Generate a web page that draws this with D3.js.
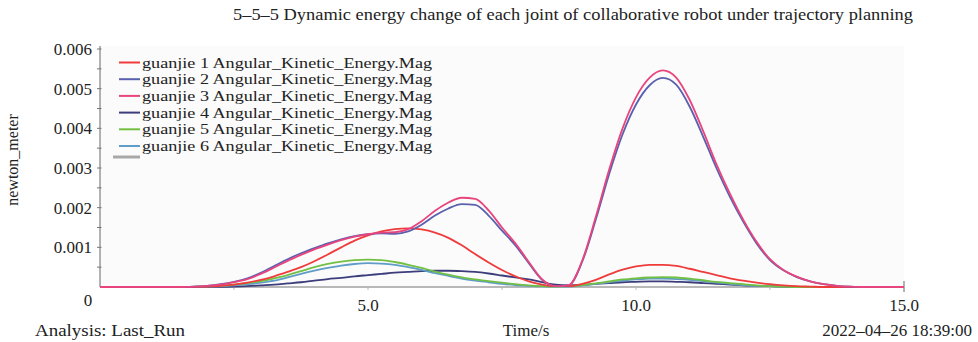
<!DOCTYPE html>
<html>
<head>
<meta charset="utf-8">
<script src="https://cdn.jsdelivr.net/npm/d3@7"></script>
<style>
  html, body { margin: 0; padding: 0; background: #fff; }
  svg { display: block; }
  text { font-family: "Liberation Serif", "DejaVu Serif", serif; fill: #222; }
</style>
</head>
<body>
<svg id="chart" width="978" height="342"></svg>
<script>
// Sample times (s), step 0.25 from 0 to 15
const time = d3.range(0, 15.0001, 0.25);

// Angular kinetic energy magnitude, in units of 0.001 newton_meter
const guanjie1 = [0,0,0,0,0,0,0,0, 0.01,0.03,0.06,0.11,0.18,0.27,0.38,0.50,0.65,0.82,1.00,1.17,1.30,1.40,1.46,1.48,1.45,1.37,1.24,1.05,0.83,0.62,0.43,0.27,0.14,0.06,0.02,0.02,0.08,0.18,0.32,0.44,0.52,0.56,0.56,0.53,0.46,0.38,0.30,0.22,0.16,0.11,0.07,0.04,0.02,0.01,0,0,0,0,0,0,0];
const guanjie2 = [0,0,0,0,0,0,0, 0.01,0.03,0.07,0.13,0.22,0.36,0.53,0.70,0.85,0.98,1.10,1.20,1.28,1.33,1.35,1.34,1.40,1.57,1.80,1.98,2.09,2.07,1.80,1.42,1.05,0.60,0.18,0.02,0.05,0.65,1.70,2.85,3.85,4.60,5.08,5.27,5.10,4.55,3.80,3.00,2.28,1.65,1.10,0.68,0.42,0.25,0.14,0.07,0.03,0.01,0,0,0,0];
const guanjie3 = [0,0,0,0,0,0,0, 0.01,0.03,0.06,0.12,0.20,0.33,0.49,0.66,0.81,0.95,1.07,1.18,1.27,1.33,1.37,1.38,1.46,1.66,1.92,2.13,2.25,2.22,1.93,1.50,1.10,0.63,0.19,0.02,0.05,0.68,1.77,2.96,4.00,4.78,5.27,5.46,5.28,4.72,3.94,3.10,2.36,1.70,1.14,0.70,0.43,0.26,0.14,0.07,0.03,0.01,0,0,0,0];
const guanjie4 = [0,0,0,0,0,0,0,0,0, 0.005,0.01,0.02,0.04,0.06,0.09,0.12,0.16,0.20,0.23,0.27,0.30,0.33,0.36,0.38,0.40,0.41,0.41,0.40,0.38,0.34,0.29,0.24,0.19,0.12,0.06,0.04,0.05,0.08,0.10,0.12,0.13,0.14,0.14,0.13,0.12,0.10,0.08,0.06,0.04,0.03,0.02,0.01,0,0,0,0,0,0,0,0,0];
const guanjie5 = [0,0,0,0,0,0,0, 0.005,0.015,0.03,0.06,0.10,0.15,0.22,0.30,0.40,0.50,0.58,0.64,0.68,0.69,0.68,0.63,0.56,0.48,0.39,0.31,0.24,0.19,0.15,0.11,0.07,0.04,0.02,0.01,0.02,0.05,0.09,0.14,0.19,0.22,0.24,0.25,0.24,0.21,0.17,0.13,0.10,0.07,0.04,0.02,0.01,0,0,0,0,0,0,0,0,0];
const guanjie6 = [0,0,0,0,0,0,0, 0.005,0.01,0.02,0.04,0.07,0.11,0.16,0.24,0.33,0.41,0.48,0.54,0.58,0.60,0.59,0.56,0.50,0.43,0.35,0.28,0.21,0.16,0.12,0.08,0.05,0.03,0.015,0.01,0.01,0.04,0.08,0.12,0.16,0.19,0.21,0.21,0.20,0.18,0.15,0.11,0.08,0.05,0.03,0.02,0.01,0,0,0,0,0,0,0,0,0];

const seriesNames = [
  "guanjie 1 Angular_Kinetic_Energy.Mag",
  "guanjie 2 Angular_Kinetic_Energy.Mag",
  "guanjie 3 Angular_Kinetic_Energy.Mag",
  "guanjie 4 Angular_Kinetic_Energy.Mag",
  "guanjie 5 Angular_Kinetic_Energy.Mag",
  "guanjie 6 Angular_Kinetic_Energy.Mag"
];
const seriesValues = [guanjie1, guanjie2, guanjie3, guanjie4, guanjie5, guanjie6];
const seriesColors = ["#ef3b3b", "#5a60ae", "#e8457e", "#3d3d7c", "#72c043", "#5f9cc8"];

const yTicks = [0.001, 0.002, 0.003, 0.004, 0.005, 0.006];
const xTicks = [5, 10, 15];
const xTickLabels = ["5.0", "10.0", "15.0"];

const titleText = "5\u20135\u20135 Dynamic energy change of each joint of collaborative robot under trajectory planning";

const svg = d3.select("#chart");

const x = d3.scaleLinear().domain([0, 15]).range([100, 904]);
const y = d3.scaleLinear().domain([0, 0.006]).range([287, 49]);

// Plot area background
svg.append("rect")
  .attr("x", x(0)).attr("y", 46)
  .attr("width", x(15) - x(0)).attr("height", y(0) - 46)
  .attr("fill", "#fbfbfb");

// Title
svg.append("text")
  .attr("x", 233).attr("y", 20)
  .attr("font-size", 16)
  .attr("textLength", 680).attr("lengthAdjust", "spacingAndGlyphs")
  .text(titleText);

// Y axis: spine, minor ticks every 0.0005
svg.append("line")
  .attr("x1", x(0)).attr("x2", x(0))
  .attr("y1", 46).attr("y2", y(0))
  .attr("stroke", "#666").attr("stroke-width", 1);
svg.append("g").selectAll("line")
  .data(d3.range(0.0005, 0.00601, 0.0005))
  .join("line")
  .attr("x1", x(0) - 3).attr("x2", x(0) + 1.5)
  .attr("y1", d => y(d)).attr("y2", d => y(d))
  .attr("stroke", "#777").attr("stroke-width", 1);

svg.append("g").selectAll("text")
  .data(yTicks)
  .join("text")
  .attr("x", 92).attr("y", d => y(d) + 6)
  .attr("text-anchor", "end")
  .attr("font-size", 17)
  .text(d => d3.format(".3f")(d));

svg.append("text")
  .attr("x", 88).attr("y", 306)
  .attr("text-anchor", "middle")
  .attr("font-size", 17)
  .text("0");

// Y axis title
svg.append("text")
  .attr("transform", "translate(18,160) rotate(-90)")
  .attr("text-anchor", "middle")
  .attr("font-size", 16)
  .text("newton_meter");

// X axis: baseline, faint minor ticks and end tick
svg.append("line")
  .attr("x1", x(0)).attr("x2", x(15))
  .attr("y1", y(0)).attr("y2", y(0))
  .attr("stroke", "#b8b8b8").attr("stroke-width", 2);
svg.append("g").selectAll("line")
  .data([2.5, 5, 7.5, 10, 12.5])
  .join("line")
  .attr("x1", d => x(d)).attr("x2", d => x(d))
  .attr("y1", y(0)).attr("y2", y(0) + 3)
  .attr("stroke", "#bbb").attr("stroke-width", 1);
svg.append("line")
  .attr("x1", x(15)).attr("x2", x(15))
  .attr("y1", y(0) - 6).attr("y2", y(0) + 5)
  .attr("stroke", "#666").attr("stroke-width", 1);

svg.append("g").selectAll("text")
  .data(xTicks)
  .join("text")
  .attr("x", d => x(d)).attr("y", 311)
  .attr("text-anchor", "middle")
  .attr("font-size", 17)
  .text((d, i) => xTickLabels[i]);

// Footer labels
svg.append("text").attr("x", 35).attr("y", 336).attr("font-size", 17)
  .attr("textLength", 150).attr("lengthAdjust", "spacingAndGlyphs")
  .text("Analysis: Last_Run");
svg.append("text").attr("x", 526).attr("y", 336).attr("font-size", 17)
  .attr("text-anchor", "middle")
  .text("Time/s");
svg.append("text").attr("x", 972).attr("y", 336).attr("font-size", 17)
  .attr("text-anchor", "end")
  .text("2022\u201304\u201326 18:39:00");

// Curves
const line = d3.line()
  .x(d => x(d[0]))
  .y(d => y(d[1] / 1000))
  .curve(d3.curveMonotoneX);

const drawOrder = [3, 5, 4, 0, 1, 2];
svg.append("g").selectAll("path")
  .data(drawOrder)
  .join("path")
  .attr("d", i => line(time.map((t, k) => [t, seriesValues[i][k]])))
  .attr("fill", "none")
  .attr("stroke", i => seriesColors[i])
  .attr("stroke-width", 1.8)
  .attr("stroke-linejoin", "round");

// Legend
const legend = svg.append("g");
seriesNames.forEach((name, i) => {
  const cy = 62.5 + 16.7 * i;
  legend.append("line")
    .attr("x1", 119).attr("x2", 140)
    .attr("y1", cy).attr("y2", cy)
    .attr("stroke", seriesColors[i]).attr("stroke-width", 2);
  legend.append("text")
    .attr("x", 142).attr("y", cy + 5)
    .attr("font-size", 15)
    .attr("textLength", 290).attr("lengthAdjust", "spacingAndGlyphs")
    .text(name);
});
legend.append("line")
  .attr("x1", 113).attr("x2", 140)
  .attr("y1", 157).attr("y2", 157)
  .attr("stroke", "#a8a8a8").attr("stroke-width", 3);
</script>
</body>
</html>
